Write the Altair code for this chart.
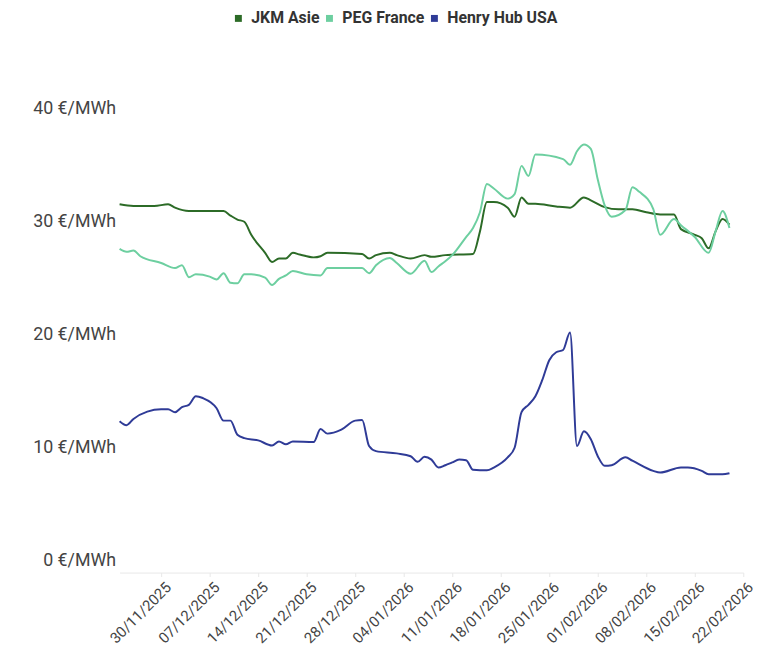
import altair as alt
import pandas as pd

series_names = ["JKM Asie", "PEG France", "Henry Hub USA"]
series_colors = ["#2c6b27", "#6dcfa0", "#2f3b97"]

jkm_dates = ["2025-11-24", "2025-11-26", "2025-11-29", "2025-12-01", "2025-12-02", "2025-12-04",
             "2025-12-09", "2025-12-10", "2025-12-11", "2025-12-12", "2025-12-13", "2025-12-15",
             "2025-12-16", "2025-12-17", "2025-12-18", "2025-12-19", "2025-12-20", "2025-12-22",
             "2025-12-23", "2025-12-24", "2025-12-29", "2025-12-30", "2025-12-31", "2026-01-02",
             "2026-01-03", "2026-01-05", "2026-01-07", "2026-01-08", "2026-01-10", "2026-01-14",
             "2026-01-15", "2026-01-16", "2026-01-17", "2026-01-19", "2026-01-20", "2026-01-21",
             "2026-01-22", "2026-01-23", "2026-01-26", "2026-01-28", "2026-01-30", "2026-01-31",
             "2026-02-02", "2026-02-04", "2026-02-06", "2026-02-08", "2026-02-10", "2026-02-12",
             "2026-02-13", "2026-02-15", "2026-02-16", "2026-02-17", "2026-02-18", "2026-02-19",
             "2026-02-20"]
jkm_values = [31.5, 31.35, 31.35, 31.5, 31.2, 30.9,
              30.9, 30.5, 30.15, 29.95, 28.8, 27.2,
              26.4, 26.7, 26.7, 27.2, 27.05, 26.8,
              26.9, 27.2, 27.1, 26.7, 27.0, 27.2,
              27.0, 26.7, 27.0, 26.85, 27.0, 27.1,
              29.1, 31.7, 31.7, 31.2, 30.4, 32.1,
              31.55, 31.55, 31.3, 31.2, 32.1, 31.85,
              31.25, 31.05, 31.05, 30.8, 30.6, 30.6,
              29.3, 28.8, 28.5, 27.6, 29.1, 30.2,
              29.7]

peg_dates = ["2025-11-24", "2025-11-25", "2025-11-26", "2025-11-27", "2025-11-30", "2025-12-02",
             "2025-12-03", "2025-12-04", "2025-12-05", "2025-12-07", "2025-12-08", "2025-12-09",
             "2025-12-10", "2025-12-11", "2025-12-12", "2025-12-13", "2025-12-15", "2025-12-16",
             "2025-12-17", "2025-12-18", "2025-12-19", "2025-12-21", "2025-12-23", "2025-12-24",
             "2025-12-29", "2025-12-30", "2025-12-31", "2026-01-02", "2026-01-03", "2026-01-05",
             "2026-01-07", "2026-01-08", "2026-01-09", "2026-01-10", "2026-01-11", "2026-01-13",
             "2026-01-14", "2026-01-15", "2026-01-16", "2026-01-17", "2026-01-19", "2026-01-20",
             "2026-01-21", "2026-01-22", "2026-01-23", "2026-01-27", "2026-01-28", "2026-01-29",
             "2026-01-30", "2026-01-31", "2026-02-01", "2026-02-02", "2026-02-03", "2026-02-05",
             "2026-02-06", "2026-02-07", "2026-02-09", "2026-02-10", "2026-02-12", "2026-02-13",
             "2026-02-15", "2026-02-17", "2026-02-18", "2026-02-19", "2026-02-20"]
peg_values = [27.55, 27.3, 27.4, 26.9, 26.3, 25.85,
              26.1, 25.05, 25.3, 25.1, 24.85, 25.4,
              24.55, 24.5, 25.3, 25.3, 25.0, 24.35,
              24.9, 25.2, 25.6, 25.3, 25.2, 25.85,
              25.85, 25.4, 26.1, 26.75, 26.3, 25.35,
              26.5, 25.5, 26.0, 26.45, 27.0, 28.6,
              29.4, 30.8, 33.3, 32.9, 32.0, 32.4,
              34.9, 34.0, 35.9, 35.5, 35.0, 36.2,
              36.8, 36.4, 33.7, 31.4, 30.4, 31.0,
              33.0, 32.6, 31.1, 28.8, 30.2, 29.65,
              28.6, 27.2, 29.1, 30.9, 29.4]

hh_dates = ["2025-11-24", "2025-11-25", "2025-11-26", "2025-11-28", "2025-11-30", "2025-12-01",
            "2025-12-02", "2025-12-03", "2025-12-04", "2025-12-05", "2025-12-06", "2025-12-08",
            "2025-12-09", "2025-12-10", "2025-12-11", "2025-12-12", "2025-12-14", "2025-12-16",
            "2025-12-17", "2025-12-18", "2025-12-19", "2025-12-22", "2025-12-23", "2025-12-24",
            "2025-12-26", "2025-12-28", "2025-12-29", "2025-12-30", "2025-12-31", "2026-01-03",
            "2026-01-05", "2026-01-06", "2026-01-07", "2026-01-08", "2026-01-09", "2026-01-10",
            "2026-01-11", "2026-01-12", "2026-01-13", "2026-01-14", "2026-01-16", "2026-01-17",
            "2026-01-19", "2026-01-20", "2026-01-21", "2026-01-22", "2026-01-23", "2026-01-24",
            "2026-01-25", "2026-01-26", "2026-01-27", "2026-01-28", "2026-01-29", "2026-01-30",
            "2026-01-31", "2026-02-01", "2026-02-02", "2026-02-03", "2026-02-05", "2026-02-06",
            "2026-02-09", "2026-02-10", "2026-02-13", "2026-02-14", "2026-02-16", "2026-02-17",
            "2026-02-19", "2026-02-20"]
hh_values = [12.3, 11.95, 12.5, 13.15, 13.35, 13.35,
             13.1, 13.55, 13.75, 14.5, 14.35, 13.45,
             12.35, 12.35, 11.1, 10.8, 10.6, 10.15,
             10.5, 10.25, 10.5, 10.45, 11.6, 11.2,
             11.55, 12.35, 12.4, 10.1, 9.65, 9.45,
             9.2, 8.7, 9.15, 8.9, 8.2, 8.4,
             8.65, 8.9, 8.85, 8.0, 7.95, 8.2,
             9.1, 9.95, 13.1, 13.75, 14.5, 15.95,
             17.7, 18.4, 18.6, 20.15, 10.1, 11.4,
             10.7, 9.2, 8.35, 8.4, 9.1, 8.8,
             7.9, 7.75, 8.2, 8.2, 7.9, 7.6,
             7.6, 7.7]

tick_labels = ["30/11/2025", "07/12/2025", "14/12/2025", "21/12/2025", "28/12/2025",
               "04/01/2026", "11/01/2026", "18/01/2026", "25/01/2026", "01/02/2026",
               "08/02/2026", "15/02/2026", "22/02/2026"]
y_ticks = [0, 10, 20, 30, 40]

rows = []
for name, dates, vals in zip(series_names, [jkm_dates, peg_dates, hh_dates],
                             [jkm_values, peg_values, hh_values]):
    for d, v in zip(dates, vals):
        rows.append({"date": d + "T00:00:00", "series": name, "value": v})
df = pd.DataFrame(rows)


def to_dt(s):
    dd, mm, yy = s.split("/")
    return alt.DateTime(year=int(yy), month=int(mm), date=int(dd))


tick_values = [to_dt(t) for t in tick_labels]
x_domain = [alt.DateTime(year=2025, month=11, date=24), alt.DateTime(year=2026, month=2, date=22)]

legend = alt.Legend(
    title=None, orient="none", legendX=112, legendY=-99,
    direction="horizontal", symbolType="square", symbolSize=9,
    symbolStrokeWidth=4, labelFont="Roboto", labelFontSize=16,
    labelFontWeight="bold", labelColor="#333333",
    columnPadding=0, labelOffset=5, padding=0,
    labelOverlap=False,
)

chart = alt.Chart(df).mark_line(interpolate="monotone", strokeWidth=2).encode(
    x=alt.X("date:T",
            scale=alt.Scale(domain=x_domain, nice=False),
            axis=alt.Axis(values=tick_values, format="%d/%m/%Y", labelAngle=-45,
                          labelAlign="right", labelBaseline="middle", labelOffset=7,
                          labelPadding=8, labelOverlap=False, title=None, grid=False,
                          domainColor="#e8e8e8", tickColor="#e8e8e8", tickSize=4,
                          labelFont="Roboto", labelFontSize=15, labelColor="#444444")),
    y=alt.Y("value:Q",
            scale=alt.Scale(domain=[-1.1, 40], nice=False, zero=False),
            axis=alt.Axis(values=y_ticks, labelExpr="datum.value + ' €/MWh'", title=None,
                          grid=False, domain=False, ticks=False, labelPadding=4,
                          labelFont="Roboto", labelFontSize=18, labelColor="#444444")),
    color=alt.Color("series:N",
                    scale=alt.Scale(domain=series_names, range=series_colors),
                    legend=legend),
).properties(
    width=630, height=469,
    autosize=alt.AutoSizeParams(type="none"),
    padding={"left": 112.7, "top": 98, "right": 30, "bottom": 81},
).configure_view(stroke=None)

chart.save("out.html", embed_options={"renderer": "svg", "actions": False})
